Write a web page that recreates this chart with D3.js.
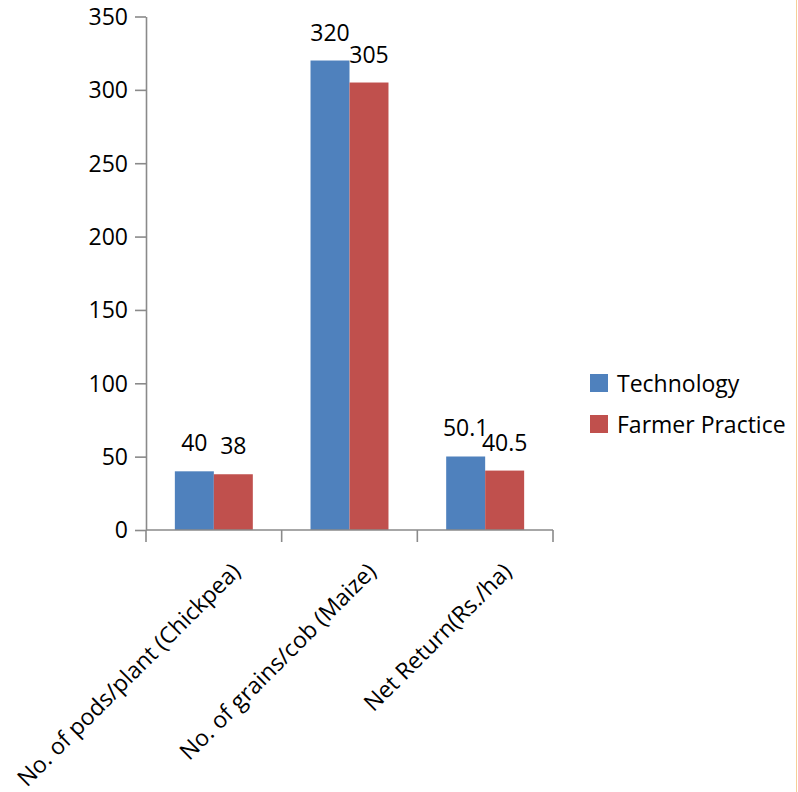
<!DOCTYPE html>
<html>
<head>
<meta charset="utf-8">
<script src="https://cdn.jsdelivr.net/npm/d3@7"></script>
<style>
  html, body { margin: 0; padding: 0; background: #ffffff; }
  svg { display: block; }
  text { font-family: "Open Sans", sans-serif; fill: #000; }
</style>
</head>
<body>
<svg id="chart" width="798" height="792"></svg>
<script>
// Categories, series and tick labels
const categories = ["No. of pods/plant (Chickpea)", "No. of grains/cob (Maize)", "Net Return(Rs./ha)"];
const seriesNames = ["Technology", "Farmer Practice"];
const technology = [40, 320, 50.1];
const farmerPractice = [38, 305, 40.5];
const yTicks = [0, 50, 100, 150, 200, 250, 300, 350];
const seriesColors = ["#4F81BD", "#C0504D"];

const seriesValues = [technology, farmerPractice];
const rows = categories.map((c, i) => ({
  category: c,
  values: seriesNames.map((s, j) => ({ series: s, value: seriesValues[j][i], color: seriesColors[j] }))
}));

const svg = d3.select("#chart");
const fontSize = 23;
const axisColor = "#8a8a8a";

const x0 = d3.scaleBand().domain(categories).range([146, 553]).padding(0);
const x1 = d3.scaleBand().domain(seriesNames).range([0, x0.bandwidth()]).paddingInner(0).paddingOuter(0.74);
const y = d3.scaleLinear().domain([0, 350]).range([530, 16.5]);

// Bars
const groups = svg.append("g").selectAll("g")
  .data(rows).join("g")
  .attr("transform", d => `translate(${x0(d.category)},0)`);

groups.selectAll("rect")
  .data(d => d.values).join("rect")
  .attr("x", d => x1(d.series))
  .attr("y", d => y(d.value))
  .attr("width", x1.bandwidth())
  .attr("height", d => y(0) - y(d.value))
  .attr("fill", d => d.color);

// Value labels
groups.selectAll("text.val")
  .data(d => d.values).join("text")
  .attr("class", "val")
  .attr("x", d => x1(d.series) + x1.bandwidth() / 2)
  .attr("y", d => y(d.value) - 20)
  .attr("text-anchor", "middle")
  .style("font-size", fontSize + "px")
  .text(d => d.value);

// Y axis
const yAxis = svg.append("g")
  .attr("transform", "translate(146,0)")
  .call(d3.axisLeft(y).tickValues(yTicks).tickSize(11).tickSizeOuter(0).tickPadding(7));
yAxis.select(".domain").attr("stroke", axisColor).attr("stroke-width", 1.6);
yAxis.selectAll(".tick line").attr("stroke", axisColor).attr("stroke-width", 1.6);
yAxis.selectAll(".tick text")
  .style("font-family", "'Open Sans', sans-serif")
  .style("font-size", fontSize + "px")
  .attr("fill", "#000")
  .attr("dy", "0.34em");

// X axis with boundary ticks between categories
const xAxisG = svg.append("g").attr("transform", `translate(0,${y(0)})`);
xAxisG.append("line")
  .attr("x1", x0.range()[0]).attr("x2", x0.range()[1])
  .attr("stroke", axisColor).attr("stroke-width", 1.6);
const boundaries = categories.map(c => x0(c)).concat([x0(categories[categories.length - 1]) + x0.bandwidth()]);
xAxisG.selectAll("line.tick")
  .data(boundaries).join("line")
  .attr("class", "tick")
  .attr("x1", d => d).attr("x2", d => d)
  .attr("y1", 0).attr("y2", 12)
  .attr("stroke", axisColor).attr("stroke-width", 1.6);

// Rotated category labels
svg.append("g").selectAll("text")
  .data(categories).join("text")
  .attr("transform", d => `translate(${x0(d) + x0.bandwidth() / 2 + 28},${y(0) + 43}) rotate(-45)`)
  .attr("text-anchor", "end")
  .style("font-size", fontSize + "px")
  .text(d => d);

// Legend
const legend = svg.append("g").selectAll("g")
  .data(seriesNames).join("g")
  .attr("transform", (d, i) => `translate(590,${374 + i * 41})`);
legend.append("rect")
  .attr("width", 18).attr("height", 18)
  .attr("fill", (d, i) => seriesColors[i]);
legend.append("text")
  .attr("x", 27).attr("y", 18)
  .style("font-size", fontSize + "px")
  .text(d => d);

// Thin frame edge at the right
svg.append("line")
  .attr("x1", 796.5).attr("x2", 796.5).attr("y1", 0).attr("y2", 792)
  .attr("stroke", "#f6cf98").attr("stroke-width", 1);
</script>
</body>
</html>
